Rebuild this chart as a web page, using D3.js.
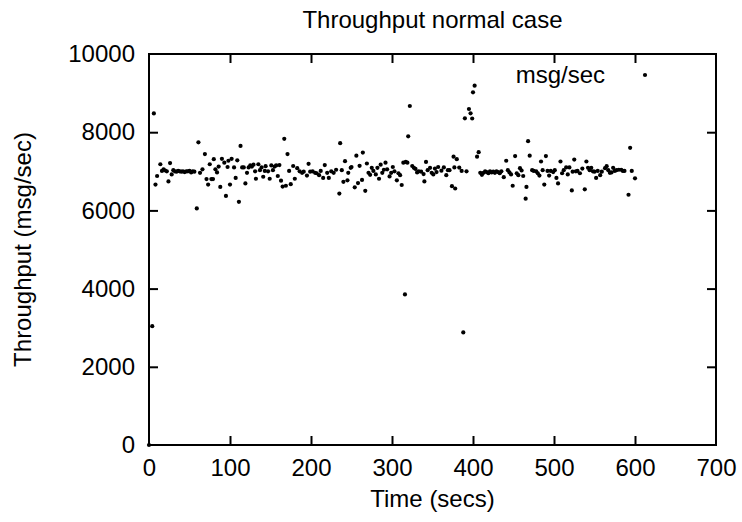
<!DOCTYPE html>
<html><head><meta charset="utf-8">
<script src="https://cdn.jsdelivr.net/npm/d3@7"></script>
<style>
body{margin:0;background:#fff;}
text{font-family:"Liberation Sans",Arial,Helvetica,sans-serif;fill:#000;}
</style></head>
<body>
<svg id="c" width="742" height="522"></svg>
<script>
const title = "Throughput normal case";
const xLabel = "Time (secs)";
const yLabel = "Throughput (msg/sec)";
const seriesName = "msg/sec";
const xTicks = [0,100,200,300,400,500,600,700];
const yTicks = [0,2000,4000,6000,8000,10000];

const times = [0,4,6,8,10,14,16,18,20,22,24,26,28,30,32,34,36,38,40,42,44,46,48,50,52,54,56,
59,61,63,66,69,71,73,75,77,79,80,82,84,86,88,90,93,95,97,98,100,102,105,107,109,111,113,115,117,119,
121,123,125,127,129,131,132,135,137,139,141,143,144,147,149,151,153,155,157,159,161,163,165,167,169,171,173,175,
178,180,183,186,189,191,195,197,199,202,205,207,210,212,215,217,220,222,225,228,231,235,236,238,240,242,245,246,
249,250,254,256,258,260,263,264,267,269,271,273,275,277,280,282,284,286,288,290,292,294,297,299,301,303,306,308,
310,312,314,316,317,319,320,322,325,327,329,331,333,336,339,340,342,344,347,349,351,353,355,357,
361,364,367,369,371,374,376,377,378,380,383,386,388,390,392,395,397,399,400,402,405,407,409,411,413,415,417,419,
421,423,425,427,429,431,433,435,438,441,443,445,447,449,452,454,456,458,460,462,465,466,468,470,473,475,478,480,
482,484,486,488,490,492,494,496,499,501,503,505,508,510,512,515,517,519,522,523,525,527,529,532,535,538,540,542,
544,546,548,550,552,554,557,559,563,565,567,569,571,573,575,577,580,583,585,587,592,594,596,600];

const throughput = [0,3040,8480,6660,6880,7180,7010,7050,7020,7000,6740,7210,6920,7030,7000,6990,7010,7000,6990,7000,6980,7000,7000,7010,6970,7000,6990,
6050,7740,6960,7050,7440,6800,6660,7180,6800,6800,7310,7050,6970,7120,6600,7320,7220,6370,7110,7270,6660,7320,7100,6830,7280,6220,7650,7100,7100,6690,
6960,7100,7150,7120,7170,7000,6810,7180,7030,7100,6860,7010,7130,7000,6810,7150,7030,7120,7150,6880,7160,6760,6610,7830,6630,7440,7010,6670,
7135,6810,7080,7000,6960,6990,6890,7190,6990,7000,6960,6950,6900,7010,6830,7160,6960,6830,7000,6960,7040,6430,7720,7030,6730,7260,6770,6960,
7090,7110,6590,7400,6700,7140,6780,7480,6500,7200,6960,6910,7090,7010,6920,7090,6810,7170,6960,7040,7220,7050,6870,6960,7110,7000,6770,6950,
6900,6650,7220,3850,7240,7220,7895,8670,7135,7090,7060,6970,7000,6990,6930,6740,7240,7030,7090,6960,6920,7070,6980,7110,
7016,7100,6900,7030,7030,6620,7375,7100,6560,7310,7095,7010,2880,8355,7000,8593,8483,8350,9020,9190,7375,7490,6960,6910,6960,7000,6980,6950,
7000,6970,6990,6960,7000,6980,6950,7000,6850,7270,7030,6970,6920,6630,7390,6950,6900,7080,7020,6880,6300,6600,7770,7400,7030,7010,7000,6950,
6890,7250,7030,6660,7390,7010,6890,7010,6980,7030,6830,6690,7250,6950,7030,7100,6920,7100,6510,6990,7300,7000,7010,6950,7070,6540,7250,7090,
7030,7090,7000,6990,6830,7010,6900,6990,7080,7130,7030,6960,6970,7090,7010,7030,7040,7040,7010,7010,6400,7600,7010,6820];

const data = times.map((t,i)=>({t, v: throughput[i]}));

const svg = d3.select("#c");
const m = {left:149, right:742-716, top:54, bottom:522-445};
const W = 742, H = 522;
const x = d3.scaleLinear().domain([0,700]).range([m.left, W-m.right]);
const y = d3.scaleLinear().domain([0,10000]).range([H-m.bottom, m.top]);
const fs = 24;
const tl = 9;
const ff = '"Liberation Sans",Arial,sans-serif';

// border
svg.append("rect").attr("x",x(0)).attr("y",y(10000)).attr("width",x(700)-x(0)).attr("height",y(0)-y(10000))
  .attr("fill","none").attr("stroke","#000").attr("stroke-width",2);

// ticks (inward, mirrored)
const fmt = d3.format("d");
const xb = svg.append("g").attr("transform",`translate(0,${y(0)})`)
  .call(d3.axisBottom(x).tickValues(xTicks).tickSizeInner(-tl).tickSizeOuter(0).tickPadding(14).tickFormat(fmt));
const xt = svg.append("g").attr("transform",`translate(0,${y(10000)})`)
  .call(d3.axisTop(x).tickValues(xTicks).tickSizeInner(-tl).tickSizeOuter(0).tickFormat(""));
const yl = svg.append("g").attr("transform",`translate(${x(0)},0)`)
  .call(d3.axisLeft(y).tickValues(yTicks).tickSizeInner(-tl).tickSizeOuter(0).tickPadding(14).tickFormat(fmt));
const yr = svg.append("g").attr("transform",`translate(${x(700)},0)`)
  .call(d3.axisRight(y).tickValues(yTicks).tickSizeInner(-tl).tickSizeOuter(0).tickFormat(""));
[xb,xt,yl,yr].forEach(g=>{
  g.select(".domain").remove();
  g.selectAll(".tick line").attr("stroke","#000").attr("stroke-width",2);
  g.selectAll(".tick text").attr("font-size",fs).attr("font-family",ff).attr("fill","#000");
});
xb.selectAll(".tick line").filter(d=>d===0||d===700).remove();
xt.selectAll(".tick line").filter(d=>d===0||d===700).remove();
yl.selectAll(".tick line").filter(d=>d===0||d===10000).remove();
yr.selectAll(".tick line").filter(d=>d===0||d===10000).remove();

// points
svg.append("g").selectAll("circle").data(data).join("circle")
  .attr("cx",d=>x(d.t)).attr("cy",d=>y(d.v)).attr("r",2.1).attr("fill","#000");

// titles
svg.append("text").attr("x",(x(0)+x(700))/2).attr("y",28).attr("text-anchor","middle").attr("font-size",fs).text(title);
svg.append("text").attr("x",(x(0)+x(700))/2).attr("y",507).attr("text-anchor","middle").attr("font-size",fs).text(xLabel);
svg.append("text").attr("transform",`translate(31,${(y(0)+y(10000))/2}) rotate(-90)`).attr("text-anchor","middle").attr("font-size",fs).text(yLabel);

// legend
svg.append("text").attr("x",605).attr("y",83).attr("text-anchor","end").attr("font-size",fs).text(seriesName);
svg.append("circle").attr("cx",645).attr("cy",75).attr("r",2.1).attr("fill","#000");
</script>
</body></html>
